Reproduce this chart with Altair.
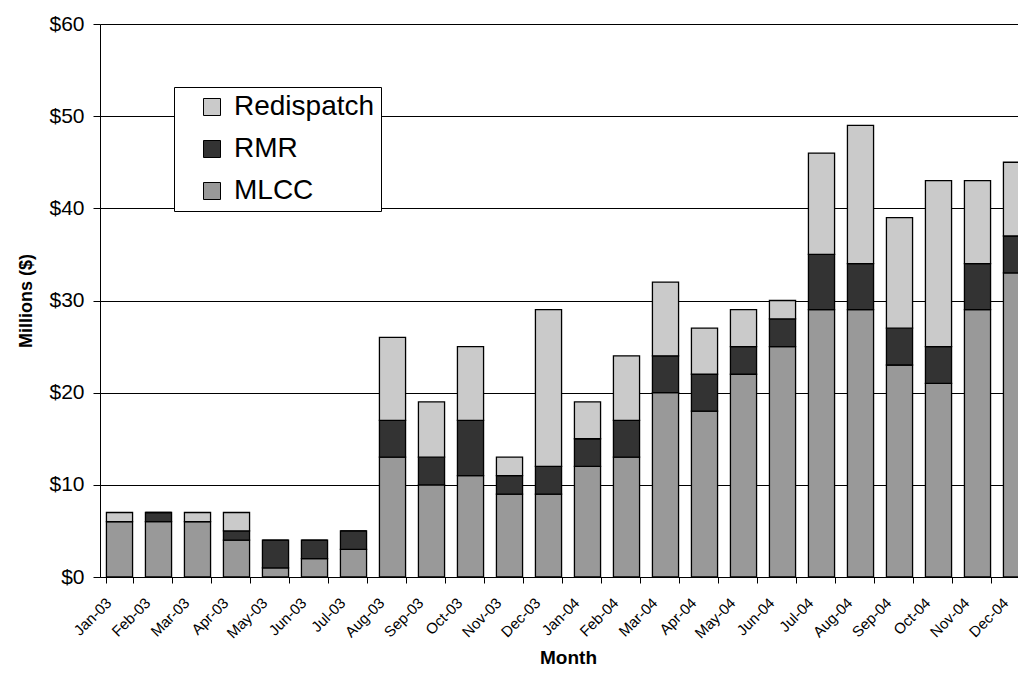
import altair as alt
import pandas as pd

months = ["Jan-03", "Feb-03", "Mar-03", "Apr-03", "May-03", "Jun-03", "Jul-03", "Aug-03",
          "Sep-03", "Oct-03", "Nov-03", "Dec-03", "Jan-04", "Feb-04", "Mar-04", "Apr-04",
          "May-04", "Jun-04", "Jul-04", "Aug-04", "Sep-04", "Oct-04", "Nov-04", "Dec-04"]
mlcc = [6, 6, 6, 4, 1, 2, 3, 13, 10, 11, 9, 9, 12, 13, 20, 18, 22, 25, 29, 29, 23, 21, 29, 33]
rmr = [0, 1, 0, 1, 3, 2, 2, 4, 3, 6, 2, 3, 3, 4, 4, 4, 3, 3, 6, 5, 4, 4, 5, 4]
redispatch = [1, 0, 1, 2, 0, 0, 0, 9, 6, 8, 2, 17, 4, 7, 8, 5, 4, 2, 11, 15, 12, 18, 9, 8]

series = ["Redispatch", "RMR", "MLCC"]
colors = ["#cacaca", "#333333", "#999999"]
stack_order = {"MLCC": 0, "RMR": 1, "Redispatch": 2}

rows = []
for i, m in enumerate(months):
    for name, vals in (("MLCC", mlcc), ("RMR", rmr), ("Redispatch", redispatch)):
        rows.append({"Month": m, "Component": name, "Value": vals[i], "ord": stack_order[name]})
df = pd.DataFrame(rows)

FONT = "Liberation Sans"

chart = alt.Chart(df).mark_bar(stroke="black", strokeWidth=1.3).encode(
    x=alt.X("Month:N", sort=months, title="Month",
            scale=alt.Scale(paddingInner=0.33, paddingOuter=0.165, range=[0, 936]),
            axis=alt.Axis(labelAngle=-45, labelFontSize=15, labelFont=FONT, labelColor="black",
                          labelPadding=12, labelOffset=-16,
                          titleFontSize=19, titleFont=FONT, titleFontWeight="bold", titleColor="black",
                          titlePadding=8,
                          domainColor="black", tickColor="black", tickBand="extent", tickSize=6,
                          grid=False)),
    y=alt.Y("Value:Q", stack="zero", title="Millions ($)",
            scale=alt.Scale(domain=[0, 60], nice=False),
            axis=alt.Axis(values=[0, 10, 20, 30, 40, 50, 60], format="$,.0f",
                          labelFontSize=21, labelFont=FONT, labelColor="black", labelPadding=9,
                          titleFontSize=18, titleFont=FONT, titleFontWeight="bold", titleColor="black",
                          titlePadding=13,
                          domainColor="black", tickColor="black", tickSize=7,
                          grid=True, gridColor="black", gridWidth=1)),
    color=alt.Color("Component:N", sort=series,
                    scale=alt.Scale(domain=series, range=colors),
                    legend=alt.Legend(title=None, orient="none", legendX=74, legendY=63,
                                      fillColor="white", strokeColor="black", padding=6,
                                      labelFontSize=28, labelFont=FONT, labelColor="black",
                                      labelExpr="datum.label + '  '",
                                      symbolType="square", symbolSize=289, symbolStrokeColor="black",
                                      symbolStrokeWidth=1, rowPadding=14, labelOffset=8,
                                      symbolOffset=18)),
    order=alt.Order("ord:Q", sort="ascending"),
).properties(
    width=918, height=553,
    autosize=alt.AutoSizeParams(type="none"),
    padding={"left": 92, "top": 16, "right": 0, "bottom": 90},
).configure_view(stroke=None).configure(background="white")

chart.save("out.html", embed_options={"renderer": "svg", "actions": False})
